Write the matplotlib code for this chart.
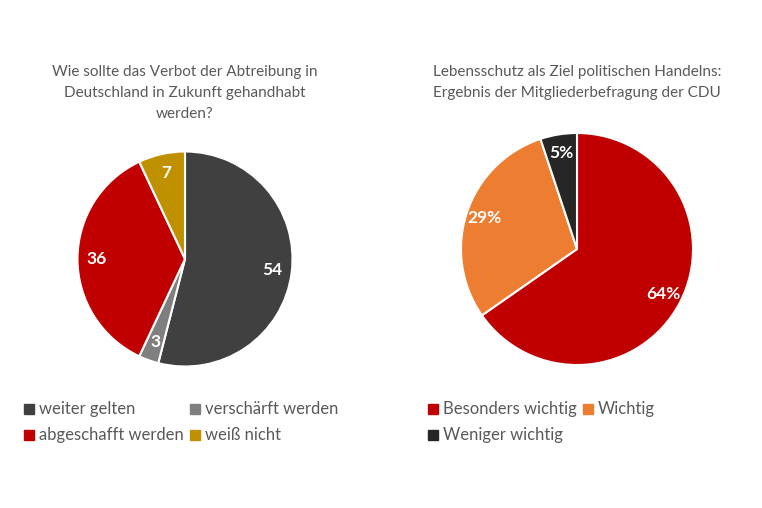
import matplotlib
matplotlib.use("Agg")
import matplotlib.pyplot as plt
from matplotlib.lines import Line2D
import numpy as np

plt.rcParams['font.family'] = ['Lato', 'DejaVu Sans']

# Data
left_title = "Wie sollte das Verbot der Abtreibung in\nDeutschland in Zukunft gehandhabt\nwerden?"
left_labels = ["weiter gelten", "verschärft werden", "abgeschafft werden", "weiß nicht"]
left_values = [54, 3, 36, 7]
left_colors = ["#404040", "#7f7f7f", "#c00000", "#bf9000"]

right_title = "Lebensschutz als Ziel politischen Handelns:\nErgebnis der Mitgliederbefragung der CDU"
right_labels = ["Besonders wichtig", "Wichtig", "Weniger wichtig"]
right_values = [64, 29, 5]
right_colors = ["#c00000", "#ed7d31", "#262626"]

W, H = 762, 508
fig = plt.figure(figsize=(W / 100, H / 100), dpi=100)
TXT = "#595959"


def pie_axes(cx, cy, r):
    return fig.add_axes([(cx - r) / W, (H - cy - r) / H, 2 * r / W, 2 * r / H])


def draw_pie(ax, values, colors, fmt, dist):
    wedges, _ = ax.pie(values, colors=colors, startangle=90, counterclock=False,
                       wedgeprops=dict(edgecolor="white", linewidth=1.5))
    for w, v in zip(wedges, values):
        ang = np.deg2rad((w.theta1 + w.theta2) / 2)
        ax.text(dist * np.cos(ang), dist * np.sin(ang), fmt(v), ha="center", va="center",
                color="white", fontsize=12.5, fontweight="bold")
    ax.set_xlim(-1, 1)
    ax.set_ylim(-1, 1)
    ax.set_aspect("equal")
    ax.axis("off")
    return wedges


axL = pie_axes(185, 259, 107.5)
draw_pie(axL, left_values, left_colors, lambda v: f"{v}", 0.82)
axR = pie_axes(577, 249, 116)
draw_pie(axR, right_values, right_colors, lambda v: f"{v}%", 0.84)

fig.text(185 / W, 1 - 65 / H, left_title, ha="center", va="top", color=TXT,
         fontsize=11, linespacing=1.62)
fig.text(577 / W, 1 - 65 / H, right_title, ha="center", va="top", color=TXT,
         fontsize=11, linespacing=1.62)


def handles(labels, colors):
    return [Line2D([], [], marker="s", linestyle="none", markersize=6.5,
                   markerfacecolor=c, markeredgecolor=c, label=l) for l, c in zip(labels, colors)]


common = dict(ncol=2, loc="upper left", frameon=False, fontsize=12,
              handlelength=0.6, handletextpad=0.3, columnspacing=0.35,
              labelspacing=0.6, borderpad=0, labelcolor=TXT)
hL = handles(left_labels, left_colors)
fig.legend(handles=[hL[0], hL[2], hL[1], hL[3]],
           bbox_to_anchor=(16 / W, 1 - 393 / H), **common)
hR = handles(right_labels, right_colors)
fig.legend(handles=[hR[0], hR[2], hR[1]],
           bbox_to_anchor=(420 / W, 1 - 393 / H), **common)

fig.savefig("out.png", dpi=100, facecolor="white")
